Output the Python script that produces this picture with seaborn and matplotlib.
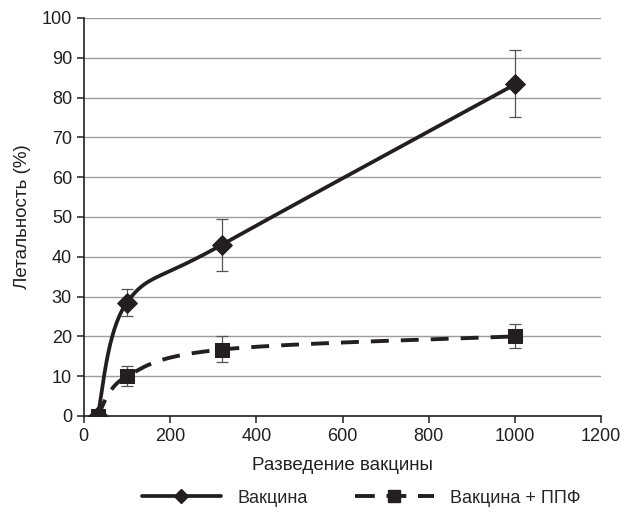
import numpy as np
import pandas as pd
import matplotlib
matplotlib.use("Agg")
import matplotlib.pyplot as plt
import seaborn as sns
from matplotlib.lines import Line2D

dilution = [32, 100, 320, 1000]
vaccine = [0, 28.5, 43, 83.3]
vaccine_lo = [0, 25, 36.5, 75]
vaccine_hi = [0, 32, 49.5, 92]
ppf = [0, 10, 16.7, 20]
ppf_lo = [0, 7.5, 13.5, 17]
ppf_hi = [0, 12.5, 20, 23]

sns.set_theme(style="white")
plt.rcParams['font.family'] = ['Liberation Sans', 'DejaVu Sans']

fig = plt.figure(figsize=(6.25, 5.12), dpi=100)
ax = fig.add_axes([0.134, 0.1875, 0.828, 0.7775])

def smooth(xs, ys, sx=1200.0, sy=100.0, n=60):
    # Catmull-Rom style (Excel-like) smoothing done in normalized screen space
    X = np.array(xs) / sx
    Y = np.array(ys) / sy * 0.77
    px, py = [], []
    m = len(X)
    for i in range(m - 1):
        p0 = (X[max(i - 1, 0)], Y[max(i - 1, 0)])
        p1 = (X[i], Y[i])
        p2 = (X[i + 1], Y[i + 1])
        p3 = (X[min(i + 2, m - 1)], Y[min(i + 2, m - 1)])
        c1 = (p1[0] + (p2[0] - p0[0]) / 6, p1[1] + (p2[1] - p0[1]) / 6)
        c2 = (p2[0] - (p3[0] - p1[0]) / 6, p2[1] - (p3[1] - p1[1]) / 6)
        t = np.linspace(0, 1, n)
        bx = (1-t)**3*p1[0] + 3*(1-t)**2*t*c1[0] + 3*(1-t)*t**2*c2[0] + t**3*p2[0]
        by = (1-t)**3*p1[1] + 3*(1-t)**2*t*c1[1] + 3*(1-t)*t**2*c2[1] + t**3*p2[1]
        px.extend(bx); py.extend(by)
    return np.array(px) * sx, np.array(py) / 0.77 * sy

df = pd.DataFrame({"x": dilution, "vac": vaccine, "ppf": ppf})
ink = "#231f20"

sx, sy = smooth(dilution, vaccine)
ax.plot(sx, sy, color=ink, lw=2.7, solid_capstyle="butt", zorder=3)
sx2, sy2 = smooth(dilution, ppf)
ax.plot(sx2, sy2, color=ink, lw=2.8, dashes=(4.6, 3.1), zorder=3)

ax.errorbar(dilution[1:], vaccine[1:],
            yerr=[np.array(vaccine[1:]) - np.array(vaccine_lo[1:]), np.array(vaccine_hi[1:]) - np.array(vaccine[1:])],
            fmt="none", ecolor="#555555", elinewidth=0.9, capsize=4, capthick=0.9, zorder=2)
ax.errorbar(dilution[1:], ppf[1:],
            yerr=[np.array(ppf[1:]) - np.array(ppf_lo[1:]), np.array(ppf_hi[1:]) - np.array(ppf[1:])],
            fmt="none", ecolor="#555555", elinewidth=0.9, capsize=4, capthick=0.9, zorder=2)

sns.scatterplot(data=df, x="x", y="vac", marker="D", s=100, color=ink, edgecolor=ink, ax=ax, zorder=4)
sns.scatterplot(data=df, x="x", y="ppf", marker="s", s=90, color=ink, edgecolor=ink, ax=ax, zorder=4)

ax.set_xlim(0, 1200)
ax.set_ylim(0, 100)
ax.set_xticks(range(0, 1201, 200))
ax.set_yticks(range(0, 101, 10))
ax.yaxis.grid(True, color="#9d9d9d", lw=1.0)
ax.xaxis.grid(False)
for s in ["top", "right"]:
    ax.spines[s].set_visible(False)
for s in ["left", "bottom"]:
    ax.spines[s].set_color(ink)
    ax.spines[s].set_linewidth(1.2)
ax.tick_params(axis="both", direction="out", length=5, width=1.1, color=ink,
               labelsize=13, labelcolor=ink, bottom=True, left=True)
ax.set_xlabel("Разведение вакцины", fontsize=13.5, color=ink, labelpad=9)
ax.set_ylabel("Летальность (%)", fontsize=13.5, color=ink, labelpad=8)

handles = [
    Line2D([0], [0], color=ink, lw=2.7, marker="D", markersize=7.5),
    Line2D([0], [0], color=ink, lw=2.8, dashes=(5.1, 3.0), marker="s", markersize=8.5),
]
fig.legend(handles, ["Вакцина", "Вакцина + ППФ"], loc="center", bbox_to_anchor=(0.578, 0.027),
           ncol=2, frameon=False, fontsize=13, handlelength=4.4, columnspacing=2.6, handletextpad=0.9)

fig.savefig("out.png", dpi=100)
